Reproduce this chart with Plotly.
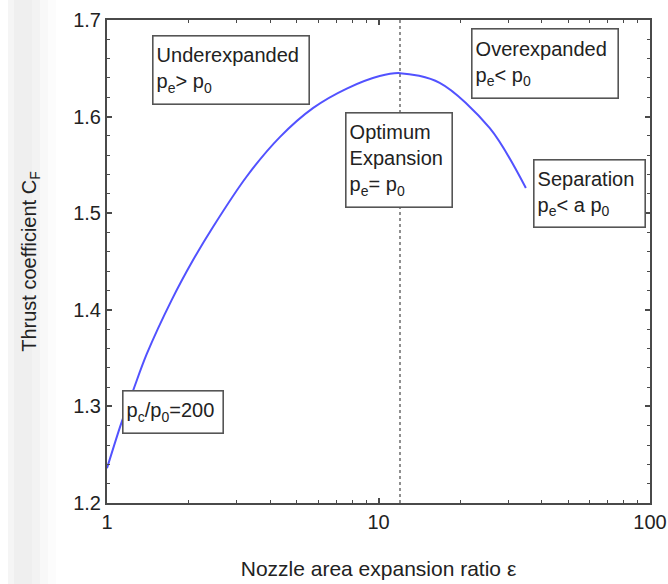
import plotly.graph_objects as go

# Thrust coefficient vs. nozzle area expansion ratio (pc/p0 = 200)
expansion_ratio = [1.0, 1.13, 1.25, 1.40, 1.73, 2.08, 2.46, 3.27, 4.34, 5.75, 7.64,
                   10.1, 12.0, 16.8, 25.7, 34.9]
thrust_coeff = [1.236, 1.283, 1.317, 1.354, 1.410, 1.452, 1.486, 1.538, 1.579, 1.609, 1.629,
                1.642, 1.645, 1.635, 1.588, 1.526]

optimum_ratio = 12.0
y_range = [1.2, 1.7]
x_ticks = [1, 10, 100]
x_tick_text = ["1", "10", "100"]
x_minor = [2, 3, 4, 5, 6, 7, 8, 9, 20, 30, 40, 50, 60, 70, 80, 90]

W, H = 668, 584
M = dict(l=107, r=18, t=20, b=81)
PW = W - M["l"] - M["r"]
PH = H - M["t"] - M["b"]

FONT = "Liberation Sans, Arial, Helvetica, sans-serif"
AXIS_COLOR = "#4a4a4a"
TEXT_COLOR = "#222222"


def px_to_paper(px, py):
    return (px - M["l"]) / PW, 1 - (py - M["t"]) / PH


fig = go.Figure()

# soft grey band along the left edge of the page
band = [(8, 14, "#f5f5f5"), (14, 32, "#efefef"), (32, 40, "#f3f3f3"),
        (40, 48, "#f8f8f8"), (48, 56, "#fcfcfc")]
for x0, x1, col in band:
    p0, _ = px_to_paper(x0, 0)
    p1, _ = px_to_paper(x1, 0)
    fig.add_shape(type="rect", xref="paper", yref="paper",
                  x0=p0, x1=p1, y0=px_to_paper(0, H)[1], y1=px_to_paper(0, 0)[1],
                  fillcolor=col, line_width=0, layer="below")

fig.add_trace(go.Scatter(
    x=[optimum_ratio, optimum_ratio], y=y_range, mode="lines",
    line=dict(color="#555555", width=1.3, dash="dot"),
    hoverinfo="skip", showlegend=False,
))

fig.add_trace(go.Scatter(
    x=expansion_ratio, y=thrust_coeff, mode="lines",
    line=dict(color="#5252ff", width=2, shape="spline", smoothing=0.9),
    showlegend=False,
))

# labelled regions: (text, left, top, right, bottom) in pixels
boxes = [
    ("Underexpanded<br>p<sub>e</sub>> p<sub>0</sub>", 152, 35, 310, 105),
    ("Overexpanded<br>p<sub>e</sub>< p<sub>0</sub>", 471, 28, 619, 99),
    ("Optimum<br>Expansion<br>p<sub>e</sub>= p<sub>0</sub>", 345, 112, 453, 208),
    ("Separation<br>p<sub>e</sub>< a p<sub>0</sub>", 533, 159, 646, 228),
    ("p<sub>c</sub>/p<sub>0</sub>=200", 122, 390, 224, 434),
]
BW, BP = 1.6, 3
for text, x0, y0, x1, y1 in boxes:
    ax, ay = px_to_paper(x0, y0)
    fig.add_annotation(
        text=text, xref="paper", yref="paper", x=ax, y=ay,
        xanchor="left", yanchor="top", showarrow=False,
        align="left", valign="middle",
        width=(x1 - x0) - 2 * (BW + BP), height=(y1 - y0) - 2 * (BW + BP),
        borderwidth=BW, borderpad=BP, bordercolor="#555555", bgcolor="white",
        font=dict(family=FONT, size=20, color=TEXT_COLOR),
    )

axis_common = dict(
    showline=True, linecolor=AXIS_COLOR, linewidth=2, mirror="ticks",
    ticks="inside", ticklen=5, tickwidth=1.5, tickcolor=AXIS_COLOR,
    showgrid=False, zeroline=False, automargin=False,
    tickfont=dict(family=FONT, size=20, color=TEXT_COLOR),
)

fig.update_xaxes(
    type="log", range=[0, 2], tickmode="array", tickvals=x_ticks, ticktext=x_tick_text,
    minor=dict(tickmode="array", tickvals=x_minor, ticks="inside", ticklen=3,
               tickwidth=1.2, tickcolor=AXIS_COLOR, showgrid=False),
    title=dict(text="Nozzle area expansion ratio ε", standoff=29,
               font=dict(family=FONT, size=21, color=TEXT_COLOR)),
    **axis_common,
)
fig.update_yaxes(
    range=y_range, dtick=0.1, tickformat=".1f",
    minor=dict(dtick=0.02, ticks="inside", ticklen=3, tickwidth=1.2,
               tickcolor=AXIS_COLOR, showgrid=False),
    title=dict(text="Thrust coefficient C<sub>F</sub>", standoff=31,
               font=dict(family=FONT, size=20, color=TEXT_COLOR)),
    **axis_common,
)

fig.update_layout(
    width=W, height=H, margin=M,
    paper_bgcolor="white", plot_bgcolor="white",
    font=dict(family=FONT, color=TEXT_COLOR),
    showlegend=False,
)

fig.write_html("out.html")
